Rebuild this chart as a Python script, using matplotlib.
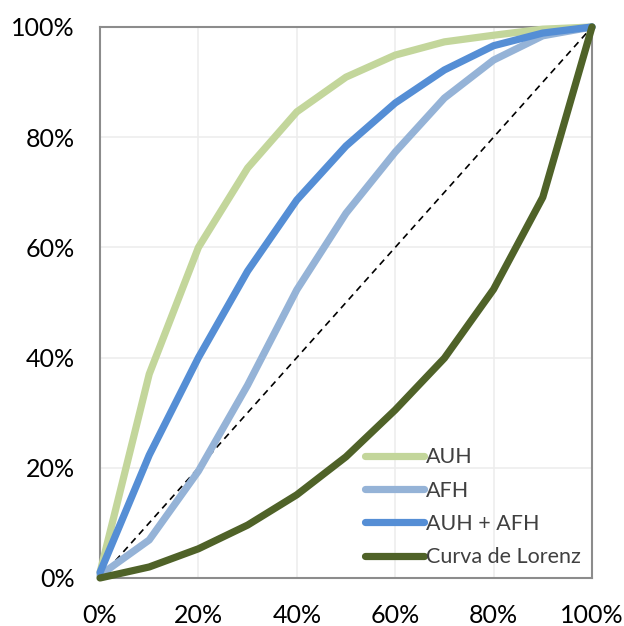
import matplotlib
matplotlib.use("Agg")
import matplotlib.pyplot as plt
from matplotlib.ticker import PercentFormatter

# population share (deciles) and cumulative shares, in %
deciles = [0, 10, 20, 30, 40, 50, 60, 70, 80, 90, 100]
auh = [1, 37, 60, 74.4, 84.6, 90.9, 94.9, 97.3, 98.5, 99.6, 100]
afh = [0.5, 6.9, 19.4, 35, 52.3, 66.2, 77.3, 87.1, 94, 98.4, 100]
auh_afh = [1, 22.3, 40, 55.7, 68.6, 78.4, 86.2, 92.2, 96.6, 98.9, 100]
lorenz = [0, 2, 5.3, 9.6, 15.1, 22, 30.5, 39.9, 52.4, 69.1, 100]

series = [
    ("AUH", auh, "#C3D69B"),
    ("AFH", afh, "#95B3D7"),
    ("AUH + AFH", auh_afh, "#558ED5"),
    ("Curva de Lorenz", lorenz, "#4F6228"),
]

plt.rcParams["font.family"] = ["Lato", "DejaVu Sans"]

fig = plt.figure(figsize=(6.24, 6.26), dpi=100)
ax = fig.add_axes([0.1603, 0.0767, 0.7884, 0.8802])

ax.plot([0, 100], [0, 100], color="black", lw=1.2, ls=(0, (4, 3)), zorder=2)
for name, vals, color in series:
    ax.plot(deciles, vals, color=color, lw=5.2, label=name,
            solid_capstyle="round", clip_on=False, zorder=3)

ax.set_xlim(0, 100)
ax.set_ylim(0, 100)
ax.set_xticks(range(0, 101, 20))
ax.set_yticks(range(0, 101, 20))
ax.xaxis.set_major_formatter(PercentFormatter(decimals=0))
ax.yaxis.set_major_formatter(PercentFormatter(decimals=0))
ax.tick_params(length=0, labelsize=18, colors="black")
ax.tick_params(axis="y", pad=18)
ax.tick_params(axis="x", pad=19)
ax.grid(color="#EDEDED", lw=1.2, zorder=0)
ax.set_axisbelow(True)
for sp in ax.spines.values():
    sp.set_color("#8C8C8C")
    sp.set_linewidth(1.5)

leg = ax.legend(loc="lower right", bbox_to_anchor=(1.0, 0.0), frameon=False,
                fontsize=15.5, handlelength=2.75, handletextpad=0.1,
                labelspacing=0.62, borderaxespad=0.3, borderpad=0.2)
for t in leg.get_texts():
    t.set_color("#404040")

fig.savefig("out.png", dpi=100)
